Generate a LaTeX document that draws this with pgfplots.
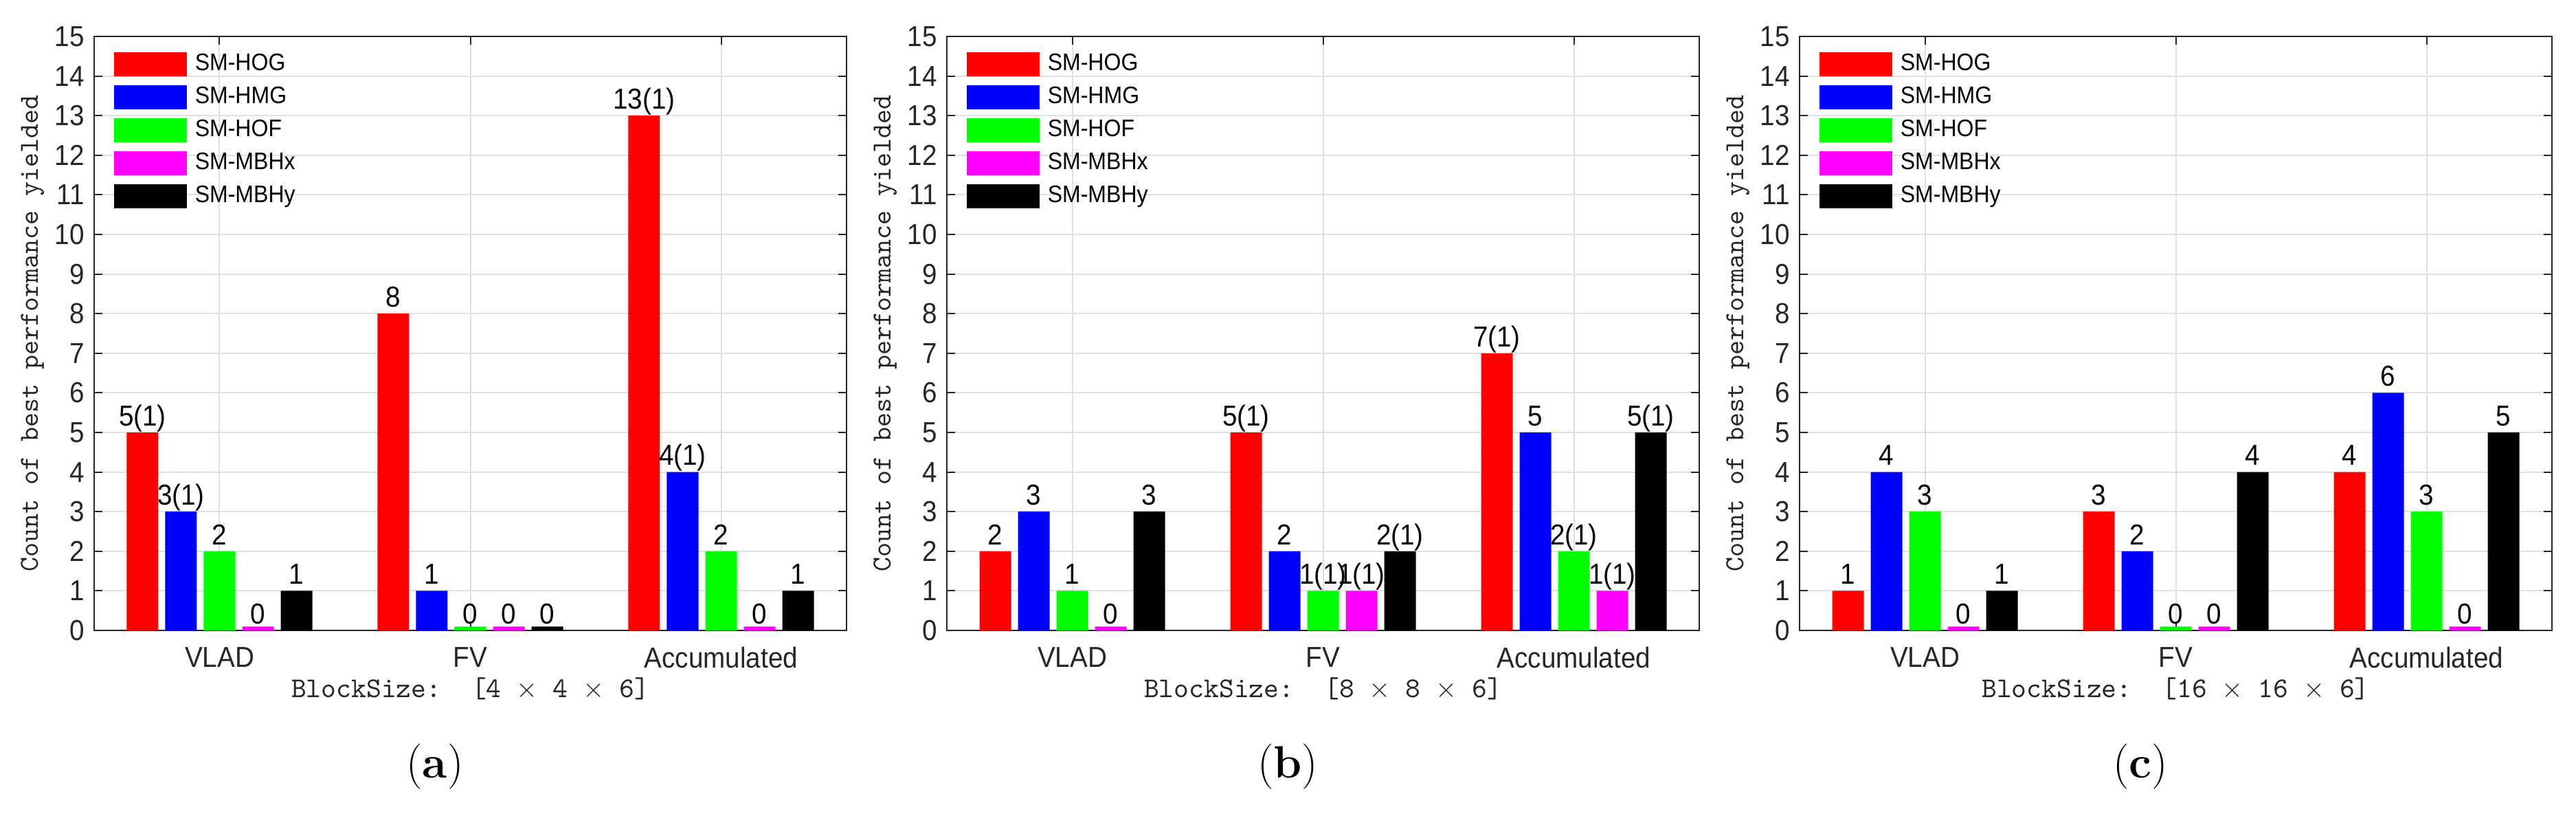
\documentclass[border=0pt]{standalone}
\usepackage{pgfplots}
\pgfplotsset{compat=1.18}
\usepackage{fontspec}
\newfontfamily\helv[FakeStretch=0.92]{Liberation Sans}
\definecolor{axgray}{RGB}{38,38,38}
\definecolor{gridgray}{RGB}{223,223,223}
\definecolor{mred}{RGB}{255,0,0}
\definecolor{mblue}{RGB}{0,0,255}
\definecolor{mgreen}{RGB}{0,255,0}
\definecolor{mmag}{RGB}{255,0,255}
\definecolor{mblack}{RGB}{0,0,0}

\pgfplotsset{
 panel/.style={
  scale only axis, width=273.75pt, height=216pt,
  anchor=south west,
  xmin=0.5, xmax=3.5, ymin=0, ymax=15,
  enlargelimits=false,
  xtick={1,2,3}, xticklabels={VLAD,FV,Accumulated},
  ytick={0,1,...,15},
  ybar=2.5pt, bar width=11.5pt,
  tick align=inside, major tick length=3pt,
  xmajorgrids, ymajorgrids,
  major grid style={draw=gridgray, line width=0.5pt},
  axis line style={draw=axgray, line width=0.5pt},
  every tick/.style={draw=axgray, line width=0.5pt},
  /pgf/number format/assume math mode=true,
  tick label style={font=\helv\fontsize{10.5}{12}\selectfont, text=axgray},
  xticklabel style={yshift=-2.5pt},
  every axis y label/.style={at={(axis description cs:-0.082,0.5)}, rotate=90, anchor=center, font=\ttfamily\fontsize{10}{12}\selectfont, text=axgray},
  every axis x label/.style={at={(axis description cs:0.5,-0.0984)}, anchor=center, font=\ttfamily\fontsize{10.4}{12}\selectfont, text=axgray},
  ylabel={Count of best performance yielded},
  nodes near coords, point meta=explicit symbolic,
  visualization depends on={rawy \as \rawy},
  every node near coord/.append style={font=\helv\fontsize{10.5}{12}\selectfont, text=black, inner sep=0pt, text depth=0pt, anchor=south, yshift={ifthenelse(\rawy<0.5,0.7,2.25)}},
  legend style={at={(axis description cs:0,1)}, anchor=north west, xshift=7pt, yshift=-5.5pt, draw=none, fill=none, font=\helv\fontsize{8.7}{10}\selectfont, row sep=3.25pt, inner sep=0pt, nodes={inner sep=0pt}, /tikz/every odd column/.append style={column sep=3pt}},
  legend cell align=left,
  legend image code/.code={\fill[#1] (0pt,-4.375pt) rectangle (26.5pt,4.375pt);},
 }
}

\begin{document}
\begin{tikzpicture}
\path[use as bounding box] (0,0) rectangle (937.25pt,295.75pt);

% (a)
\begin{axis}[panel, at={(34.25pt,66.5pt)}, xlabel={BlockSize:\ \ [4 $\times$ 4 $\times$ 6]}]
\addplot[fill=mred, draw=none] coordinates {(1,5) [5(1)] (2,8) [8] (3,13) [13(1)]};
\addplot[fill=mblue, draw=none] coordinates {(1,3) [3(1)] (2,1) [1] (3,4) [4(1)]};
\addplot[fill=mgreen, draw=none] coordinates {(1,2) [2] (2,0.1) [0] (3,2) [2]};
\addplot[fill=mmag, draw=none] coordinates {(1,0.1) [0] (2,0.1) [0] (3,0.1) [0]};
\addplot[fill=mblack, draw=none] coordinates {(1,1) [1] (2,0.1) [0] (3,1) [1]};
\legend{SM-HOG,SM-HMG,SM-HOF,SM-MBHx,SM-MBHy}
\end{axis}

% (b)
\begin{axis}[panel, at={(344.5pt,66.5pt)}, xlabel={BlockSize:\ \ [8 $\times$ 8 $\times$ 6]}]
\addplot[fill=mred, draw=none] coordinates {(1,2) [2] (2,5) [5(1)] (3,7) [7(1)]};
\addplot[fill=mblue, draw=none] coordinates {(1,3) [3] (2,2) [2] (3,5) [5]};
\addplot[fill=mgreen, draw=none] coordinates {(1,1) [1] (2,1) [1(1)] (3,2) [2(1)]};
\addplot[fill=mmag, draw=none] coordinates {(1,0.1) [0] (2,1) [1(1)] (3,1) [1(1)]};
\addplot[fill=mblack, draw=none] coordinates {(1,3) [3] (2,2) [2(1)] (3,5) [5(1)]};
\legend{SM-HOG,SM-HMG,SM-HOF,SM-MBHx,SM-MBHy}
\end{axis}

% (c)
\begin{axis}[panel, at={(654.75pt,66.5pt)}, xlabel={BlockSize:\ \ [16 $\times$ 16 $\times$ 6]}]
\addplot[fill=mred, draw=none] coordinates {(1,1) [1] (2,3) [3] (3,4) [4]};
\addplot[fill=mblue, draw=none] coordinates {(1,4) [4] (2,2) [2] (3,6) [6]};
\addplot[fill=mgreen, draw=none] coordinates {(1,3) [3] (2,0.1) [0] (3,3) [3]};
\addplot[fill=mmag, draw=none] coordinates {(1,0.1) [0] (2,0.1) [0] (3,0.1) [0]};
\addplot[fill=mblack, draw=none] coordinates {(1,1) [1] (2,4) [4] (3,5) [5]};
\legend{SM-HOG,SM-HMG,SM-HOF,SM-MBHx,SM-MBHy}
\end{axis}

\node at (158.25pt,17pt) {\fontsize{16.5}{18}\selectfont(\textbf{a})};
\node at (468.5pt,17pt) {\fontsize{16.5}{18}\selectfont(\textbf{b})};
\node at (778.75pt,17pt) {\fontsize{16.5}{18}\selectfont(\textbf{c})};
\end{tikzpicture}
\end{document}
